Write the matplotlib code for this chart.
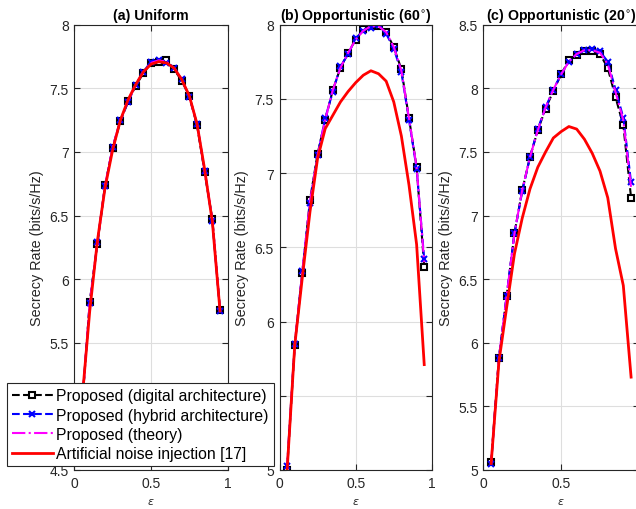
import matplotlib
matplotlib.use("Agg")
import matplotlib.pyplot as plt

# %% Data

eps = [0.05, 0.10, 0.15, 0.20, 0.25, 0.30, 0.35, 0.40, 0.45, 0.50,
       0.55, 0.60, 0.65, 0.70, 0.75, 0.80, 0.85, 0.90, 0.95]

# (a) Uniform
uni_digital = [5.00, 5.82, 6.28, 6.74, 7.03, 7.24, 7.40, 7.52, 7.62, 7.70,
               7.71, 7.72, 7.65, 7.56, 7.44, 7.21, 6.84, 6.47, 5.76]
uni_hybrid = [5.01, 5.81, 6.29, 6.73, 7.04, 7.25, 7.39, 7.53, 7.63, 7.71,
              7.72, 7.70, 7.66, 7.57, 7.43, 7.22, 6.85, 6.46, 5.75]
uni_theory = [5.01, 5.82, 6.28, 6.74, 7.04, 7.25, 7.40, 7.53, 7.63, 7.70,
              7.72, 7.71, 7.66, 7.57, 7.44, 7.22, 6.85, 6.47, 5.76]
uni_an = [5.05, 5.75, 6.30, 6.72, 7.02, 7.25, 7.41, 7.53, 7.63, 7.69,
          7.71, 7.70, 7.66, 7.57, 7.44, 7.22, 6.86, 6.45, 5.75]

# (b) Opportunistic, 60 degrees
opp60_digital = [5.00, 5.84, 6.33, 6.82, 7.13, 7.36, 7.56, 7.71, 7.81, 7.90,
                 7.97, 7.99, 7.99, 7.95, 7.85, 7.70, 7.37, 7.04, 6.37]
opp60_hybrid = [5.03, 5.85, 6.34, 6.80, 7.12, 7.37, 7.55, 7.72, 7.80, 7.91,
                7.96, 7.98, 8.00, 7.94, 7.84, 7.68, 7.36, 7.03, 6.42]
opp60_theory = [5.02, 5.85, 6.34, 6.81, 7.12, 7.36, 7.56, 7.71, 7.81, 7.90,
                7.96, 7.99, 7.99, 7.95, 7.85, 7.69, 7.37, 7.04, 6.40]
opp60_an = [5.00, 5.84, 6.30, 6.74, 7.10, 7.30, 7.39, 7.48, 7.55, 7.61,
            7.66, 7.69, 7.67, 7.62, 7.48, 7.25, 6.92, 6.52, 5.71]

# (c) Opportunistic, 20 degrees
opp20_digital = [5.06, 5.88, 6.37, 6.86, 7.20, 7.46, 7.67, 7.84, 7.98, 8.11,
                 8.22, 8.26, 8.29, 8.29, 8.27, 8.16, 7.93, 7.71, 7.14]
opp20_hybrid = [5.05, 5.88, 6.37, 6.86, 7.19, 7.46, 7.68, 7.85, 7.99, 8.11,
                8.21, 8.27, 8.30, 8.31, 8.29, 8.21, 7.99, 7.77, 7.26]
opp20_theory = [5.05, 5.88, 6.37, 6.86, 7.20, 7.46, 7.67, 7.85, 7.99, 8.11,
                8.21, 8.27, 8.30, 8.30, 8.28, 8.19, 7.97, 7.75, 7.22]
opp20_an = [5.05, 5.85, 6.28, 6.70, 6.98, 7.21, 7.38, 7.50, 7.61, 7.66,
            7.70, 7.68, 7.60, 7.49, 7.35, 7.14, 6.74, 6.45, 5.73]

titles = ["(a) Uniform",
          r"(b) Opportunistic (60$^{\circ}$)",
          r"(c) Opportunistic (20$^{\circ}$)"]
ylims = [(4.5, 8), (5, 8), (5, 8.5)]
yticks = [[4.5, 5, 5.5, 6, 6.5, 7, 7.5, 8],
          [5, 5.5, 6, 6.5, 7, 7.5, 8],
          [5, 5.5, 6, 6.5, 7, 7.5, 8, 8.5]]
ytick_labels = [["4.5", "5", "5.5", "6", "6.5", "7", "7.5", "8"],
                ["5", "5.5", "6", "6.5", "7", "7.5", "8"],
                ["5", "5.5", "6", "6.5", "7", "7.5", "8", "8.5"]]

panels = [(uni_digital, uni_hybrid, uni_theory, uni_an),
          (opp60_digital, opp60_hybrid, opp60_theory, opp60_an),
          (opp20_digital, opp20_hybrid, opp20_theory, opp20_an)]

legend_labels = ["Proposed (digital architecture)",
                 "Proposed (hybrid architecture)",
                 "Proposed (theory)",
                 "Artificial noise injection [17]"]

# %% Plot

plt.rcParams['font.family'] = ['Liberation Sans', 'DejaVu Sans']
plt.rcParams['mathtext.fontset'] = 'dejavusans'

dark = "#262626"
fig = plt.figure(figsize=(6.36, 5.10), dpi=100)

# axes boxes in figure fractions: left, bottom, width, height
boxes = [(0.117, 0.0765, 0.241, 0.873),
         (0.4395, 0.0765, 0.2395, 0.873),
         (0.760, 0.0765, 0.2445, 0.873)]

handles = None
for k, (digital, hybrid, theory, an) in enumerate(panels):
    ax = fig.add_axes(boxes[k])

    h1, = ax.plot(eps, digital, color="black", linestyle="--", linewidth=1.5,
                  marker="s", markersize=4.8, markerfacecolor="white",
                  markeredgewidth=1.5)
    h2, = ax.plot(eps, hybrid, color="blue", linestyle="--", linewidth=1.5,
                  marker="x", markersize=4.5, markeredgewidth=1.5)
    h3, = ax.plot(eps, theory, color="magenta", linestyle="-.", linewidth=1.5)
    h4, = ax.plot(eps, an, color="red", linestyle="-", linewidth=2)
    handles = [h1, h2, h3, h4]

    ax.set_xlim(0, 1)
    ax.set_ylim(*ylims[k])
    ax.set_xticks([0, 0.5, 1])
    ax.set_xticklabels(["0", "0.5", "1"])
    ax.set_yticks(yticks[k])
    ax.set_yticklabels(ytick_labels[k])

    ax.grid(True, color="#dedede", linewidth=0.8)
    ax.set_axisbelow(True)
    ax.tick_params(direction="in", length=4, width=0.8, top=True, right=True,
                   labelsize=10, colors=dark, pad=4)
    for side in ax.spines.values():
        side.set_color(dark)
        side.set_linewidth(0.8)

    ax.set_title(titles[k], fontsize=10.2, fontweight="bold", pad=4)
    ax.set_ylabel("Secrecy Rate (bits/s/Hz)", fontsize=10.4, color=dark,
                  labelpad=4)
    ax.set_xlabel(r"$\epsilon$", fontsize=8, color=dark, labelpad=5)

leg = fig.legend(handles, legend_labels, loc="lower left",
                 bbox_to_anchor=(7 / 636, 43 / 510), fontsize=11.3,
                 frameon=True, fancybox=False, framealpha=1,
                 edgecolor=dark, handlelength=2.6, handletextpad=0.25,
                 borderpad=0.3, labelspacing=0.28, borderaxespad=0)
leg.get_frame().set_linewidth(0.8)

plt.savefig("out.png", dpi=100)
